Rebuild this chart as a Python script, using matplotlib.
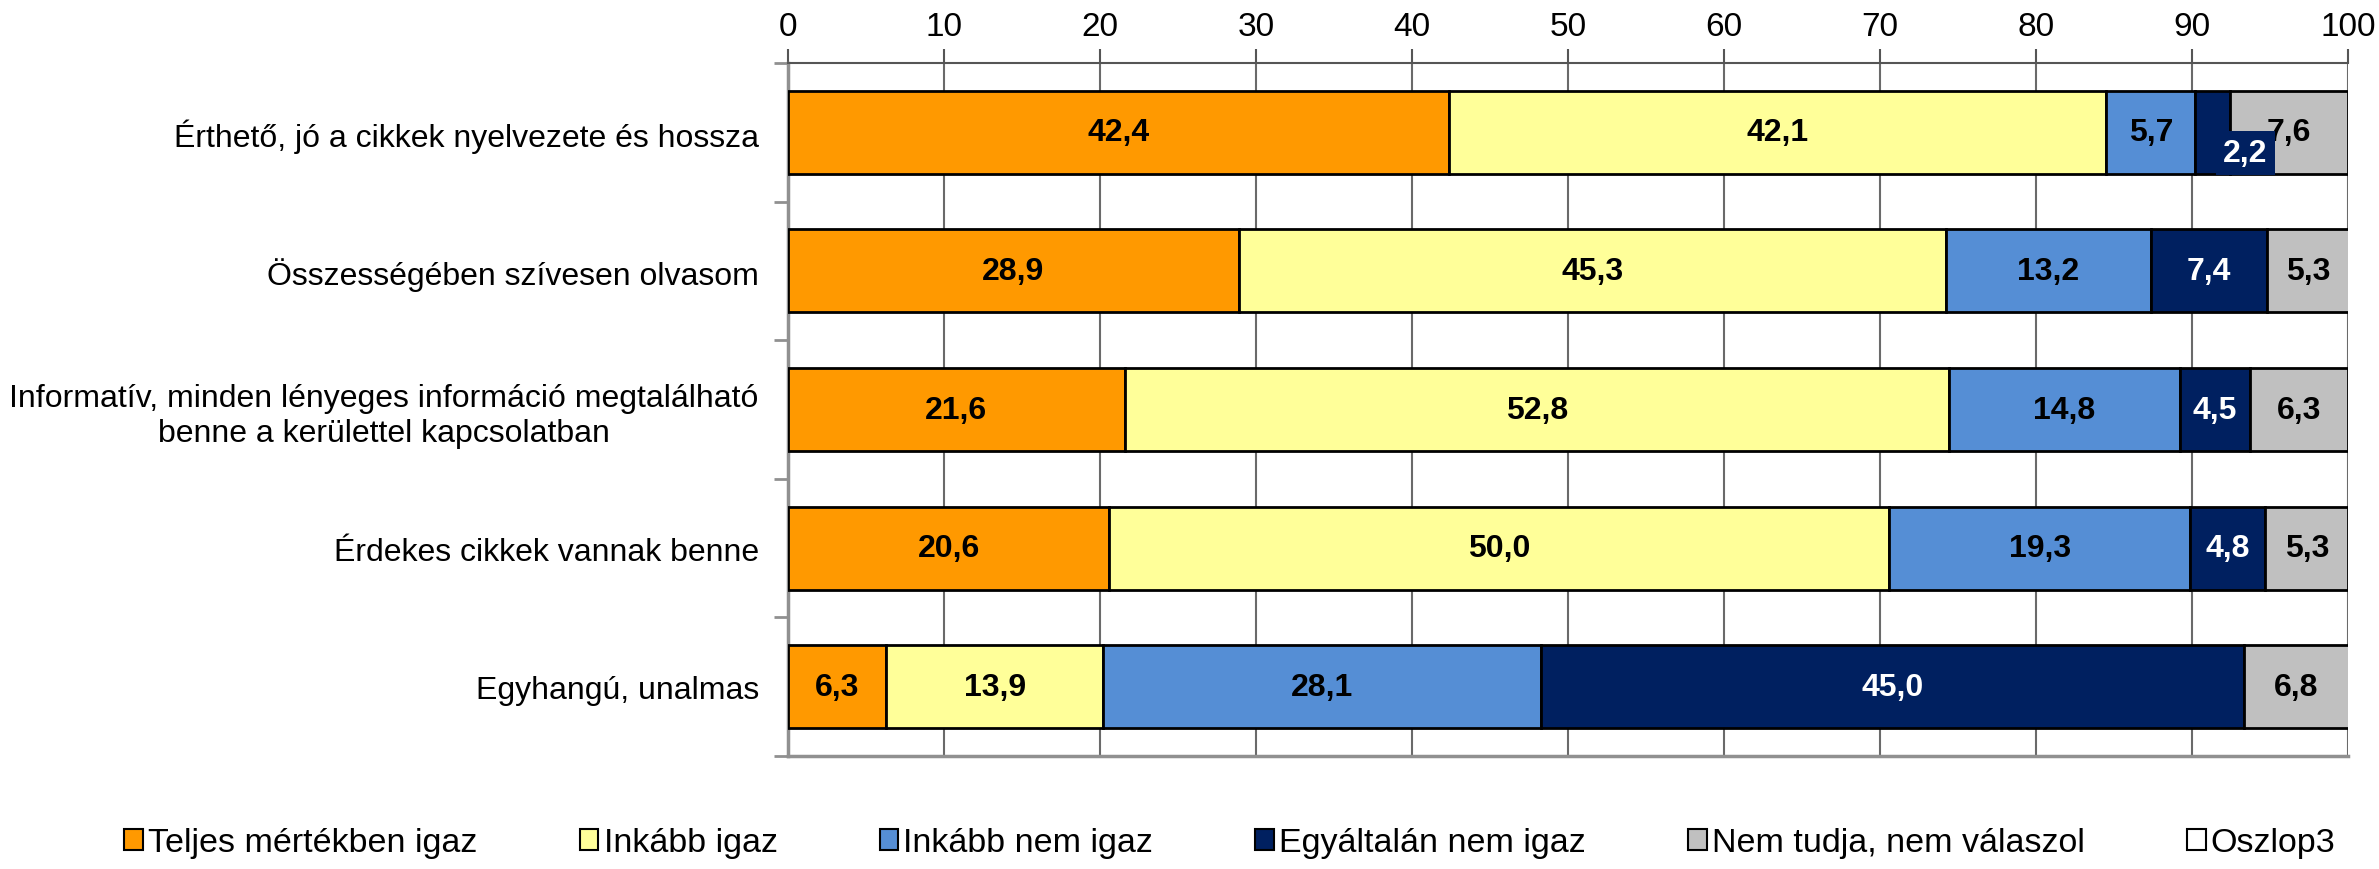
import numpy as np
import matplotlib.pyplot as plt
from matplotlib.patches import Patch

plt.rcParams["font.family"] = ["Liberation Sans", "DejaVu Sans"]

categories = [
    "Érthető, jó a cikkek nyelvezete és hossza",
    "Összességében szívesen olvasom",
    "Informatív, minden lényeges információ megtalálható\nbenne a kerülettel kapcsolatban",
    "Érdekes cikkek vannak benne",
    "Egyhangú, unalmas",
]

series_names = [
    "Teljes mértékben igaz",
    "Inkább igaz",
    "Inkább nem igaz",
    "Egyáltalán nem igaz",
    "Nem tudja, nem válaszol",
]

teljes = [42.4, 28.9, 21.6, 20.6, 6.3]
inkabb = [42.1, 45.3, 52.8, 50.0, 13.9]
inkabb_nem = [5.7, 13.2, 14.8, 19.3, 28.1]
egyaltalan = [2.2, 7.4, 4.5, 4.8, 45.0]
nem_tudja = [7.6, 5.3, 6.3, 5.3, 6.8]

colors = ["#FF9900", "#FFFF99", "#558ED5", "#002060", "#C0C0C0"]
text_colors = ["black", "black", "black", "white", "black"]

values = [teljes, inkabb, inkabb_nem, egyaltalan, nem_tudja]

fig = plt.figure(figsize=(23.79, 8.70), dpi=100)
ax = fig.add_axes([0.3312, 0.1299, 0.6558, 0.7965])

y = np.arange(len(categories))
left = np.zeros(len(categories))

for name, vals, col, tcol in zip(series_names, values, colors, text_colors):
    vals = np.array(vals)
    ax.barh(y, vals, left=left, height=0.6, color=col, edgecolor="black",
            linewidth=2, label=name, zorder=3)
    for i, (v, l) in enumerate(zip(vals, left)):
        label = f"{v:.1f}".replace(".", ",")
        if v < 3:
            # small segment: label pushed out in a box, like the original
            ax.annotate(label, (l + v / 2, i), xytext=(33, -21),
                        textcoords="offset pixels", ha="center", va="center",
                        fontsize=23, fontweight="bold", color=tcol, zorder=5,
                        bbox=dict(boxstyle="square,pad=0.22", fc=col, ec="none"))
        else:
            ax.text(l + v / 2, i, label, ha="center", va="center",
                    fontsize=23, fontweight="bold", color=tcol, zorder=4)
    left += vals

ax.set_xlim(0, 100)
ax.set_ylim(len(categories) - 0.5, -0.5)
ax.set_xticks(np.arange(0, 101, 10))
ax.xaxis.tick_top()
ax.tick_params(axis="x", labelsize=24, length=10, width=1.5, color="#555555", pad=5)
ax.grid(axis="x", color="#6a6a6a", linewidth=1.5, zorder=0)

ax.set_yticks(y)
ax.set_yticklabels(categories, fontsize=23, multialignment="center")
ax.tick_params(axis="y", which="major", length=0, pad=21)
ax.set_yticks(np.arange(-0.5, len(categories), 1), minor=True)
ax.tick_params(axis="y", which="minor", length=10, width=2, color="#909090")

for s in ["left", "bottom"]:
    ax.spines[s].set_color("#909090")
    ax.spines[s].set_linewidth(2.5)
ax.spines["top"].set_color("#555555")
ax.spines["top"].set_linewidth(1.5)
ax.spines["right"].set_visible(False)

handles = [Patch(facecolor=c, edgecolor="black", linewidth=1.5) for c in colors]
handles.append(Patch(facecolor="white", edgecolor="black", linewidth=1.5))
labels = series_names + ["Oszlop3"]
fig.legend(handles, labels, loc="center", bbox_to_anchor=(0.517, 0.03), ncol=6,
           frameon=False, fontsize=24.5, handlelength=0.55, handleheight=0.6,
           handletextpad=0.15, columnspacing=3.0, borderpad=0.1)

fig.savefig("out.png", dpi=100)
plt.close()
